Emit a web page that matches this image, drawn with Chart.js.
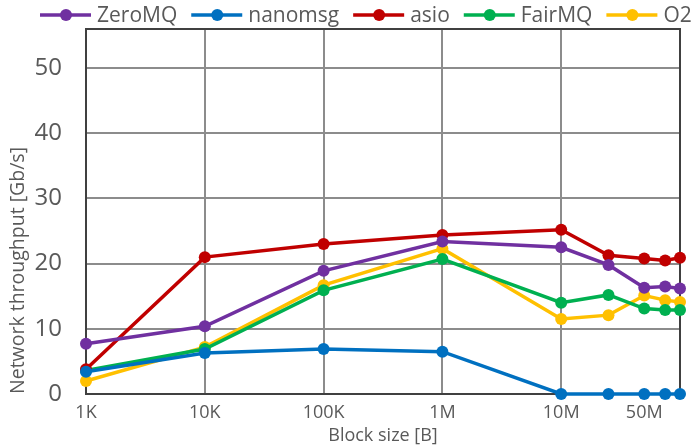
<!DOCTYPE html>
<html>
<head>
<meta charset="utf-8">
<script src="https://cdn.jsdelivr.net/npm/chart.js@4.4.1/dist/chart.umd.min.js"></script>
<style>
  html, body { margin: 0; padding: 0; background: #fff; }
  #wrap { width: 692px; height: 447px; }
</style>
</head>
<body>
<div id="wrap"><canvas id="chart"></canvas></div>
<script>
// Block sizes in bytes (log x axis)
const blockSizes = [1e3, 1e4, 1e5, 1e6, 1e7, 2.5e7, 5e7, 7.5e7, 1e8];

// Throughput in Gb/s
const zeromq  = [7.7, 10.4, 18.9, 23.4, 22.5, 19.8, 16.3, 16.5, 16.2];
const nanomsg = [3.4, 6.3, 6.9, 6.5, 0, 0, 0, 0, 0];
const asio    = [3.8, 21.0, 23.0, 24.4, 25.2, 21.3, 20.8, 20.5, 20.9];
const fairmq  = [3.6, 6.9, 15.9, 20.7, 14.0, 15.2, 13.1, 12.9, 12.9];
const o2      = [2.0, 7.2, 16.7, 22.3, 11.5, 12.1, 15.1, 14.4, 14.1];

const seriesNames  = ['ZeroMQ', 'nanomsg', 'asio', 'FairMQ', 'O2'];
const seriesColors = ['#7030A0', '#0070C0', '#C00000', '#00B050', '#FFC000'];

// x tick positions and their labels
const xTickValues = [1e3, 1e4, 1e5, 1e6, 1e7, 5e7, 1e8];
const xTickLabels = ['1K', '10K', '100K', '1M', '10M', '50M', ''];
const yTickValues = [0, 10, 20, 30, 40, 50];

const FONT = '"Open Sans", "Liberation Sans", sans-serif';
const TEXT = '#595959';

const allValues = [zeromq, nanomsg, asio, fairmq, o2];
const datasets = allValues.map((vals, i) => ({
    label: seriesNames[i],
    data: blockSizes.map((x, j) => ({ x: x, y: vals[j] })),
    borderColor: seriesColors[i],
    backgroundColor: seriesColors[i],
    borderWidth: 3.5,
    pointRadius: 6,
    pointHoverRadius: 6,
    pointBorderWidth: 0,
    tension: 0,
    clip: false
}));

// frame around the plot area, under the lines
const frame = {
    id: 'frame',
    beforeDatasetsDraw(chart) {
        const a = chart.chartArea;
        const ctx = chart.ctx;
        ctx.save();
        ctx.strokeStyle = '#404040';
        ctx.lineWidth = 2;
        ctx.strokeRect(a.left, a.top, a.right - a.left, a.bottom - a.top);
        ctx.restore();
    }
};

// legend row at the top: line + dot marker, then the name
const topLegend = {
    id: 'topLegend',
    afterDraw(chart) {
        const ctx = chart.ctx;
        ctx.save();
        ctx.font = '21px ' + FONT;
        ctx.textBaseline = 'middle';
        ctx.textAlign = 'left';
        let x = 40;
        const y = 15;
        chart.data.datasets.forEach((ds, i) => {
            const col = seriesColors[i];
            ctx.strokeStyle = col;
            ctx.lineWidth = 3.5;
            ctx.beginPath();
            ctx.moveTo(x, y);
            ctx.lineTo(x + 51, y);
            ctx.stroke();
            ctx.fillStyle = col;
            ctx.beginPath();
            ctx.arc(x + 26, y, 6, 0, Math.PI * 2);
            ctx.fill();
            ctx.fillStyle = TEXT;
            ctx.fillText(ds.label, x + 57, y + 1);
            x += 57 + ctx.measureText(ds.label).width + 14;
        });
        ctx.restore();
    }
};

new Chart(document.getElementById('chart'), {
    type: 'line',
    data: { datasets: datasets },
    plugins: [frame, topLegend],
    options: {
        responsive: true,
        maintainAspectRatio: false,
        animation: false,
        layout: { padding: { left: 7, right: 12, top: 29, bottom: 0 } },
        plugins: {
            tooltip: { enabled: false },
            legend: { display: false }
        },
        scales: {
            x: {
                type: 'logarithmic',
                min: 1e3,
                max: 1e8,
                afterBuildTicks(scale) {
                    scale.ticks = xTickValues.map(v => ({ value: v }));
                },
                afterFit(scale) { scale.height = 53; },
                ticks: {
                    autoSkip: false,
                    maxRotation: 0,
                    padding: 8,
                    color: TEXT,
                    font: { family: FONT, size: 18 },
                    callback(value) {
                        const k = xTickValues.indexOf(value);
                        return k >= 0 ? xTickLabels[k] : '';
                    }
                },
                grid: {
                    drawTicks: false,
                    lineWidth: 2,
                    color(ctx) {
                        const v = ctx.tick && ctx.tick.value;
                        return (v === 5e7) ? 'rgba(0,0,0,0)' : '#8c8c8c';
                    }
                },
                border: { display: false },
                title: {
                    display: true,
                    text: 'Block size [B]',
                    color: TEXT,
                    font: { family: FONT, size: 18 },
                    padding: { top: 0, bottom: 0 }
                }
            },
            y: {
                min: 0,
                max: 56,
                afterFit(scale) {
                    scale.width = 79;
                    // the tick padding would otherwise push the plot top down
                    scale.paddingTop = 0;
                    scale.paddingBottom = 0;
                },
                afterBuildTicks(scale) {
                    scale.ticks = yTickValues.map(v => ({ value: v }));
                },
                ticks: {
                    padding: 24,
                    color: TEXT,
                    font: { family: FONT, size: 24 }
                },
                grid: {
                    drawTicks: false,
                    lineWidth: 2,
                    color: '#8c8c8c'
                },
                border: { display: false },
                title: {
                    display: true,
                    align: 'start',
                    text: 'Network throughput [Gb/s]',
                    color: TEXT,
                    font: { family: FONT, size: 19.5 },
                    padding: { top: 0, bottom: 0 }
                }
            }
        }
    }
});
</script>
</body>
</html>
